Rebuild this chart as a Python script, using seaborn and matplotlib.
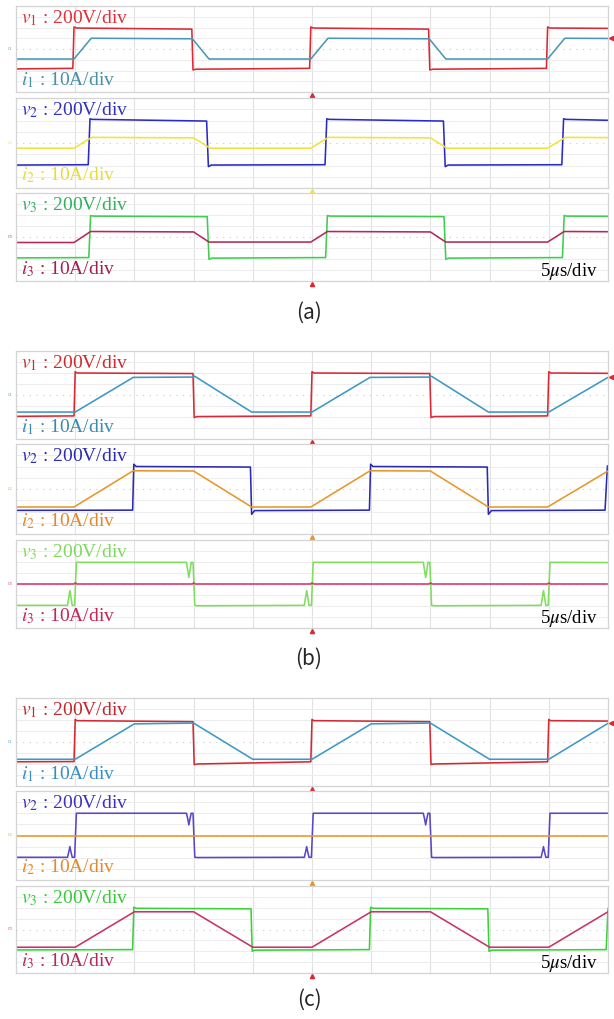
import matplotlib
matplotlib.use("Agg")
import matplotlib.pyplot as plt
import seaborn as sns

sns.set_style("white")
plt.rcParams["mathtext.fontset"] = "stix"
plt.rcParams["font.family"] = ["Liberation Serif", "DejaVu Serif"]

# ---- waveform breakpoints (time in div, amplitude in div) ----
# panel (a)
V1A_T = [0.00, 0.96, 0.98, 1.02, 2.97, 2.99, 3.04, 4.96, 4.98, 5.02, 6.97, 6.99, 7.04, 8.96, 8.98, 9.02, 10.00]
V1A_Y = [-1.85, -1.80, 2.05, 1.95, 1.85, -1.95, -1.88, -1.80, 2.05, 1.95, 1.85, -1.95, -1.88, -1.80, 2.05, 1.95, 1.92]
I1A_T = [0.00, 0.98, 1.27, 2.98, 3.26, 4.98, 5.27, 6.98, 7.26, 8.98, 9.27, 10.00]
I1A_Y = [-0.93, -0.93, 1.00, 0.95, -0.93, -0.93, 1.00, 0.95, -0.93, -0.93, 1.00, 0.98]
V2A_T = [0.00, 1.22, 1.25, 1.29, 3.22, 3.25, 3.30, 5.22, 5.25, 5.29, 7.22, 7.25, 7.30, 9.22, 9.25, 9.29, 10.00]
V2A_Y = [-1.96, -1.93, 2.15, 2.10, 1.95, -2.10, -1.96, -1.93, 2.15, 2.10, 1.95, -2.10, -1.96, -1.93, 2.15, 2.10, 2.02]
I2A_T = [0.00, 0.98, 1.28, 3.00, 3.28, 4.98, 5.28, 7.00, 7.28, 8.98, 9.28, 10.00]
I2A_Y = [-0.46, -0.46, 0.50, 0.46, -0.46, -0.46, 0.50, 0.46, -0.46, -0.46, 0.50, 0.48]
V3A_T = [0.00, 1.23, 1.26, 1.30, 3.23, 3.26, 3.31, 5.23, 5.26, 5.30, 7.23, 7.26, 7.31, 9.23, 9.26, 9.30, 10.00]
V3A_Y = [-1.90, -1.87, 1.95, 1.90, 1.85, -2.02, -1.92, -1.87, 1.95, 1.90, 1.85, -2.02, -1.92, -1.87, 1.95, 1.90, 1.88]
I3A_T = [0.00, 0.98, 1.26, 3.00, 3.26, 4.98, 5.26, 7.00, 7.26, 8.98, 9.26, 10.00]
I3A_Y = [-0.50, -0.50, 0.50, 0.46, -0.46, -0.46, 0.50, 0.46, -0.46, -0.46, 0.50, 0.48]

# panel (b)
V1B_T = [0.00, 0.98, 1.00, 1.03, 2.99, 3.01, 3.06, 4.98, 5.00, 5.03, 6.99, 7.01, 7.06, 8.98, 9.00, 9.03, 10.00]
V1B_Y = [-1.94, -1.90, 2.12, 2.00, 1.95, -2.05, -1.96, -1.90, 2.12, 2.00, 1.95, -2.05, -1.96, -1.90, 2.12, 2.00, 1.97]
I1B_T = [0.00, 1.00, 1.98, 2.98, 3.02, 3.98, 5.00, 5.98, 6.98, 7.02, 7.98, 9.00, 10.00]
I1B_Y = [-1.55, -1.55, 1.60, 1.63, 1.70, -1.55, -1.55, 1.60, 1.63, 1.70, -1.55, -1.55, 1.60]
V2B_T = [0.00, 1.97, 1.99, 2.03, 3.96, 3.98, 4.03, 5.97, 5.99, 6.03, 7.96, 7.98, 8.03, 9.95, 9.99, 10.00]
V2B_Y = [-1.90, -1.88, 2.20, 2.00, 1.95, -2.25, -1.92, -1.88, 2.20, 2.00, 1.95, -2.25, -1.92, -1.88, 2.05, 2.05]
I2B_T = [0.00, 0.98, 1.98, 3.00, 3.98, 4.98, 5.98, 7.00, 7.98, 8.98, 10.00]
I2B_Y = [-1.60, -1.60, 1.62, 1.60, -1.60, -1.60, 1.62, 1.60, -1.60, -1.60, 1.60]
NOTCH_T = [0.00, 0.87, 0.895, 0.91, 0.925, 0.95, 0.99, 1.02, 1.06,
           2.88, 2.905, 2.92, 2.935, 2.96, 2.99, 3.02, 3.06,
           4.87, 4.895, 4.91, 4.925, 4.95, 4.99, 5.02, 5.06,
           6.88, 6.905, 6.92, 6.935, 6.96, 6.99, 7.02, 7.06,
           8.87, 8.895, 8.91, 8.925, 8.95, 8.99, 9.02, 9.06, 10.00]
V3B_Y = [-1.94, -1.94, -1.10, -0.60, -1.10, -1.94, -1.94, 1.97, 1.97,
         1.97, 1.10, 0.60, 1.10, 1.97, 1.97, -1.94, -1.98,
         -1.94, -1.10, -0.60, -1.10, -1.94, -1.94, 1.97, 1.97,
         1.97, 1.10, 0.60, 1.10, 1.97, 1.97, -1.94, -1.98,
         -1.94, -1.10, -0.60, -1.10, -1.94, -1.94, 1.97, 1.97, 1.95]
I3B_T = [0.00, 0.98, 1.00, 1.03, 2.98, 3.00, 3.03, 4.98, 5.00, 5.03, 6.98, 7.00, 7.03, 8.98, 9.00, 9.03, 10.00]
I3B_Y = [0.00, 0.00, 0.10, 0.00, 0.00, 0.10, 0.00, 0.00, 0.10, 0.00, 0.00, 0.10, 0.00, 0.00, 0.10, 0.00, 0.00]

# panel (c)
V1C_T = [0.00, 0.98, 1.00, 1.03, 2.99, 3.01, 3.06, 4.98, 5.00, 5.03, 6.99, 7.01, 7.06, 8.98, 9.00, 9.03, 10.00]
V1C_Y = [-1.80, -1.78, 2.05, 1.94, 1.85, -2.05, -2.00, -1.80, 2.05, 1.94, 1.85, -2.05, -2.00, -1.80, 2.05, 1.94, 1.90]
I1C_T = [0.00, 1.00, 2.00, 3.00, 4.00, 5.00, 6.00, 7.00, 8.00, 9.00, 10.00]
I1C_Y = [-1.57, -1.57, 1.65, 1.72, -1.57, -1.57, 1.65, 1.72, -1.57, -1.57, 1.70]
V2C_Y = [-1.96, -1.96, -1.40, -1.00, -1.40, -1.96, -1.96, 2.00, 2.00,
         2.00, 1.40, 0.95, 1.40, 2.00, 2.00, -1.96, -1.98,
         -1.96, -1.40, -1.00, -1.40, -1.96, -1.96, 2.00, 2.00,
         2.00, 1.40, 0.95, 1.40, 2.00, 2.00, -1.96, -1.98,
         -1.96, -1.40, -1.00, -1.40, -1.96, -1.96, 2.00, 2.00, 2.00]
I2C_T = [0.00, 10.00]
I2C_Y = [0.00, 0.00]
V3C_T = [0.00, 1.97, 1.99, 2.03, 3.97, 3.99, 4.04, 5.97, 5.99, 6.03, 7.97, 7.99, 8.04, 9.97, 10.00]
V3C_Y = [-1.88, -1.85, 2.05, 1.95, 1.90, -2.00, -1.90, -1.85, 2.05, 1.95, 1.90, -2.00, -1.90, -1.85, 1.95]
I3C_T = [0.00, 1.00, 2.00, 3.00, 4.00, 5.00, 6.00, 7.00, 8.00, 9.00, 10.00]
I3C_Y = [-1.63, -1.63, 1.63, 1.63, -1.63, -1.63, 1.63, 1.63, -1.63, -1.63, 1.63]

CAPTIONS = ["(a)", "(b)", "(c)"]
V_LABELS = [r"$v_1$ : 200V/div", r"$v_2$ : 200V/div", r"$v_3$ : 200V/div"]
I_LABELS = [r"$i_1$ : 10A/div", r"$i_2$ : 10A/div", r"$i_3$ : 10A/div"]
TIME_LABEL = r"5$\mu$s/div"

# strip pixel extents (top, bottom) in the 614x1019 canvas
STRIPS = [[(6, 92), (98, 188), (193, 281)],
          [(351, 439), (444, 534), (540, 628)],
          [(698, 786), (791, 880), (886, 973)]]
CAPTION_Y = [313, 659, 1000]

panels = [
    [(V1A_T, V1A_Y, "#dc2832", I1A_T, I1A_Y, "#4a98b4", "#e0303a", "#4a8ea8"),
     (V2A_T, V2A_Y, "#2a2ac8", I2A_T, I2A_Y, "#f0e43a", "#3232c0", "#e6dc3c"),
     (V3A_T, V3A_Y, "#40cc50", I3A_T, I3A_Y, "#b4285a", "#30b060", "#a02050")],
    [(V1B_T, V1B_Y, "#dc2832", I1B_T, I1B_Y, "#3c98c4", "#d02a30", "#3a8ab0"),
     (V2B_T, V2B_Y, "#2a2ab4", I2B_T, I2B_Y, "#e8962a", "#2a2ab4", "#e08a30"),
     (NOTCH_T, V3B_Y, "#7ede5e", I3B_T, I3B_Y, "#dc3264", "#80d860", "#c02858")],
    [(V1C_T, V1C_Y, "#d62830", I1C_T, I1C_Y, "#3c98c8", "#c0282d", "#3a8ec0"),
     (NOTCH_T, V2C_Y, "#5a46c8", I2C_T, I2C_Y, "#e8962a", "#3c32c0", "#e08a30"),
     (V3C_T, V3C_Y, "#3cd03c", I3C_T, I3C_Y, "#c83264", "#3cc83c", "#b42860")],
]

W, H = 614, 1019
fig = plt.figure(figsize=(W / 100, H / 100), dpi=100)
LEFT, RIGHT = 16, 608

for p, panel in enumerate(panels):
    for s, (vt, vy, vc, it, iy, ic, vlc, ilc) in enumerate(panel):
        top, bot = STRIPS[p][s]
        ax = fig.add_axes([LEFT / W, 1 - bot / H, (RIGHT - LEFT) / W, (bot - top) / H])
        ax.set_xlim(0, 10)
        ax.set_ylim(-4, 4)
        for x in range(1, 10):
            ax.axvline(x, color="#e2e2e2", lw=0.8, zorder=0)
        for y in range(-3, 4):
            if y != 0:
                ax.axhline(y, color="#ececec", lw=0.7, zorder=0)
        ax.axhline(0, color="#c8c8c8", lw=0.8, ls=(0, (1, 5)), zorder=0)
        ax.set_xticks([])
        ax.set_yticks([])
        ax.set_xlabel("")
        ax.set_ylabel("")
        for sp in ax.spines.values():
            sp.set_color("#d4d4d4")
            sp.set_linewidth(0.9)

        sns.lineplot(x=vt, y=vy, ax=ax, color=vc, linewidth=1.15,
                     estimator=None, sort=False, legend=False)
        sns.lineplot(x=it, y=iy, ax=ax, color=ic, linewidth=1.15,
                     estimator=None, sort=False, legend=False)

        ax.text(0.008, 0.86, V_LABELS[s], transform=ax.transAxes, color=vlc,
                fontsize=14, ha="left", va="center")
        ax.text(0.008, 0.14, I_LABELS[s], transform=ax.transAxes, color=ilc,
                fontsize=14, ha="left", va="center")
        ax.text(-0.006, 0.5, "C%d" % (s + 1), transform=ax.transAxes, color=ilc,
                fontsize=3, ha="right", va="center")

        marker_color = ic if s == 1 else "#dc2832"
        ax.plot([5], [-4.3], marker="^", ms=3, color=marker_color, clip_on=False)
        if s == 0:
            ax.plot([10.05], [iy[-1]], marker="<", ms=3, color="#dc2832", clip_on=False)
        if s == 2:
            ax.text(0.983, 0.11, TIME_LABEL, transform=ax.transAxes, color="black",
                    fontsize=13.5, ha="right", va="center")

    fig.text(309 / W, 1 - CAPTION_Y[p] / H, CAPTIONS[p], ha="center", va="center",
             fontsize=15, family=["Noto Sans CJK KR", "DejaVu Sans"])

fig.savefig("out.png", dpi=100)
